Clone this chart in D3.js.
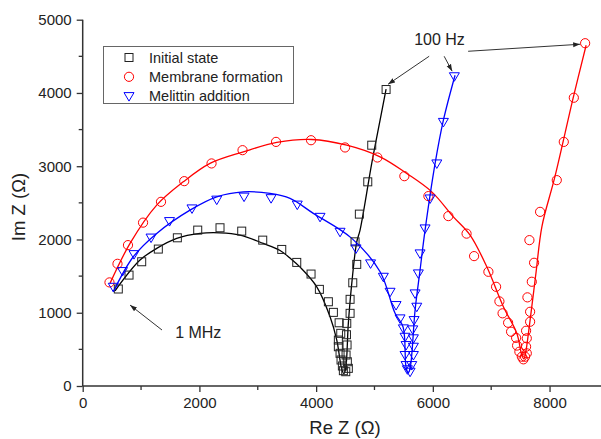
<!DOCTYPE html>
<html>
<head>
<meta charset="utf-8">
<script src="https://cdn.jsdelivr.net/npm/d3@7"></script>
<style>
  html, body { margin: 0; padding: 0; background: #fff; }
  svg { display: block; font-family: Arial, "Liberation Sans", sans-serif; }
</style>
</head>
<body>
<svg id="chart" width="601" height="439"></svg>
<script>
// ---------- data ----------
const seriesNames = ["Initial state", "Membrane formation", "Melittin addition"];
const seriesColors = ["#000000", "#ff0000", "#0000ff"];

const xTicks = [0, 2000, 4000, 6000, 8000];
const yTicks = [0, 1000, 2000, 3000, 4000, 5000];

// measured points [Re Z, Im Z]
const initialPts = [
  [610,1324],[794,1514],[1011,1696],[1296,1869],[1622,2023],[1971,2128],[2353,2160],
  [2725,2114],[3085,1991],[3411,1864],[3668,1687],[3913,1528],[4056,1319],[4210,1150],
  [4296,1005],[4394,863],[4422,719],[4381,627],[4381,536],[4410,446],[4427,355],
  [4450,273],[4467,209],
  [4508,195],[4552,241],[4535,331],[4513,423],[4530,560],[4520,700],[4525,855],
  [4582,992],[4582,1183],[4628,1409],[4696,1660],[4667,1968],[4741,2346],[4885,2787],
  [4953,3287],[5199,4047]
];
const membranePts = [
  [459,1414],[596,1668],[776,1923],[1034,2230],[1342,2514],[1740,2796],[2208,3038],
  [2739,3219],[3313,3332],[3913,3355],[4496,3256],[5050,3119],[5512,2864],[5924,2592],
  [6266,2319],[6578,2080],[6707,1773],[6952,1559],[7084,1354],[7141,1155],[7195,992],
  [7290,863],[7341,741],[7427,657],[7444,552],[7483,468],[7525,400],[7552,364],
  [7580,400],[7610,446],[7598,536],[7610,651],[7598,754],[7667,877],[7667,1013],
  [7621,1210],[7696,1423],[7735,1682],[7655,1991],[7838,2377],[8124,2810],[8244,3332],
  [8416,3935],[8610,4679]
];
const melittinPts = [
  [524,1354],[682,1569],[879,1800],[1171,2026],[1488,2251],[1873,2424],[2297,2544],
  [2765,2585],[3228,2564],[3677,2476],[4067,2309],[4410,2105],[4684,1878],[4933,1674],
  [5152,1491],[5267,1286],[5370,1105],[5438,923],[5495,787],[5524,672],[5541,559],
  [5524,423],[5541,286],[5564,228],
  [5610,195],[5639,286],[5667,423],[5667,536],[5667,651],[5656,773],[5679,900],
  [5725,1082],[5696,1264],[5752,1537],[5781,1810],[5867,2151],[5953,2560],[6068,3038],
  [6181,3605],[6369,4228]
];

// fitted curves [Re Z, Im Z]
const initialFit = [
  [554,1300],[982,1719],[1268,1878],[1611,2015],[2010,2083],[2353,2091],[2696,2060],
  [3095,1946],[3382,1850],[3553,1746],[3725,1623],[4011,1354],[4239,945],[4354,627],
  [4439,230],[4475,170],[4505,230],[4552,855],[4611,1401],[4696,1968],[4753,2128],
  [4953,3038],[5096,3628],[5199,4051]
];
const membraneFit = [
  [468,1401],[811,1946],[1268,2469],[1724,2787],[2182,3038],[2753,3196],[3325,3324],
  [3925,3365],[4525,3287],[5096,3128],[5553,2901],[5982,2650],[6352,2309],[6638,2060],
  [6925,1627],[7209,1082],[7439,719],[7525,420],[7560,370],[7585,430],[7667,900],
  [7770,1560],[7870,2180],[8090,2850],[8409,3946],[8627,4651]
];
const melittinFit = [
  [524,1286],[867,1764],[1268,2083],[1839,2401],[2297,2582],[2753,2650],[3210,2628],
  [3553,2560],[3952,2356],[4611,2015],[5096,1559],[5353,992],[5490,805],[5541,260],
  [5580,180],[5615,263],[5696,1037],[5781,1582],[5867,2128],[6039,3038],[6181,3628],
  [6381,4242]
];

// annotations (data coordinates)
const labels = [
  { text: "100 Hz", x: 6114, y: 4651, anchor: "middle" },
  { text: "1 MHz", x: 1584, y: 655, anchor: "start" }
];
const arrows = [
  { from: [5937, 4501], to: [5233, 4119] },
  { from: [6194, 4501], to: [6331, 4297] },
  { from: [6605, 4569], to: [8525, 4665] },
  { from: [1359, 764], to: [811, 1105] }
];

// ---------- chart ----------
const svg = d3.select("#chart");
const x = d3.scaleLinear().domain([0, 9000]).range([82.7, 607.9]);
const y = d3.scaleLinear().domain([0, 5000]).range([386, 19.7]);
const axisColor = "#333";

svg.append("defs").append("marker")
  .attr("id", "arrowhead").attr("viewBox", "0 0 10 10")
  .attr("refX", 10).attr("refY", 5)
  .attr("markerWidth", 7).attr("markerHeight", 7)
  .attr("markerUnits", "userSpaceOnUse")
  .attr("orient", "auto")
  .append("path").attr("d", "M0,1.5 L10,5 L0,8.5 Z").attr("fill", "#222");

// x axis
const gx = svg.append("g").attr("transform", `translate(0,${y(0)})`);
gx.append("line").attr("x1", x(0)).attr("x2", 601).attr("stroke", axisColor).attr("stroke-width", 1.5);
gx.call(d3.axisBottom(x).tickValues(xTicks).tickSize(6).tickPadding(5).tickFormat(d3.format("d")));
gx.select(".domain").remove();
gx.selectAll(".tick line").attr("stroke", axisColor).attr("stroke-width", 1.3);
gx.selectAll(".tick text").attr("font-size", 15).attr("fill", "#222").attr("font-family", "Arial, 'Liberation Sans', sans-serif");
gx.selectAll(".minor").data([1000, 3000, 5000, 7000]).enter().append("line")
  .attr("x1", d => x(d)).attr("x2", d => x(d)).attr("y1", 0).attr("y2", 4)
  .attr("stroke", axisColor).attr("stroke-width", 1.3);

// y axis
const gy = svg.append("g").attr("transform", `translate(${x(0)},0)`);
gy.append("line").attr("y1", y(0)).attr("y2", y(5000)).attr("stroke", axisColor).attr("stroke-width", 1.5);
gy.call(d3.axisLeft(y).tickValues(yTicks).tickSize(6).tickPadding(5).tickFormat(d3.format("d")));
gy.select(".domain").remove();
gy.selectAll(".tick line").attr("stroke", axisColor).attr("stroke-width", 1.3);
gy.selectAll(".tick text").attr("font-size", 15).attr("fill", "#222").attr("font-family", "Arial, 'Liberation Sans', sans-serif");
gy.selectAll(".minor").data([500, 1500, 2500, 3500, 4500]).enter().append("line")
  .attr("y1", d => y(d)).attr("y2", d => y(d)).attr("x1", 0).attr("x2", -4)
  .attr("stroke", axisColor).attr("stroke-width", 1.3);

// axis titles
svg.append("text").attr("x", 345).attr("y", 434).attr("text-anchor", "middle")
  .attr("font-size", 18.5).attr("fill", "#222").text("Re Z (Ω)");
svg.append("text").attr("transform", "translate(25,207) rotate(-90)").attr("text-anchor", "middle")
  .attr("font-size", 18.5).attr("fill", "#222").text("Im Z (Ω)");

// fit lines
const line = d3.line().x(d => x(d[0])).y(d => y(d[1])).curve(d3.curveCatmullRom.alpha(0.5));
const fits = [initialFit, membraneFit, melittinFit];
fits.forEach((f, i) => {
  svg.append("path").attr("d", line(f)).attr("fill", "none")
    .attr("stroke", seriesColors[i]).attr("stroke-width", 1.3);
});

// markers
function drawMarker(g, type, color) {
  if (type === 0) {
    g.append("rect").attr("x", -4).attr("y", -4).attr("width", 8).attr("height", 8)
      .attr("fill", "none").attr("stroke", "#222").attr("stroke-width", 1);
  } else if (type === 1) {
    g.append("circle").attr("r", 4.6).attr("fill", "none").attr("stroke", color).attr("stroke-width", 1);
  } else {
    g.append("path").attr("d", "M-5,-3.5 L5,-3.5 L0,5 Z").attr("fill", "none")
      .attr("stroke", color).attr("stroke-width", 1);
  }
}
const pts = [initialPts, membranePts, melittinPts];
pts.forEach((arr, i) => {
  const g = svg.append("g");
  arr.forEach(p => {
    const m = g.append("g").attr("transform", `translate(${x(p[0])},${y(p[1])})`);
    drawMarker(m, i, seriesColors[i]);
  });
});

// legend
const lg = svg.append("g");
lg.append("rect").attr("x", 103.5).attr("y", 46.5).attr("width", 190).attr("height", 57)
  .attr("fill", "#fff").attr("stroke", "#666").attr("stroke-width", 1);
seriesNames.forEach((n, i) => {
  const yy = 57.5 + i * 19.3;
  const m = lg.append("g").attr("transform", `translate(129,${yy})`);
  drawMarker(m, i, seriesColors[i]);
  lg.append("text").attr("x", 149).attr("y", yy + 5).attr("font-size", 14.5)
    .attr("fill", "#222").text(n);
});

// annotations
arrows.forEach(a => {
  svg.append("line")
    .attr("x1", x(a.from[0])).attr("y1", y(a.from[1]))
    .attr("x2", x(a.to[0])).attr("y2", y(a.to[1]))
    .attr("stroke", "#333").attr("stroke-width", 1)
    .attr("marker-end", "url(#arrowhead)");
});
labels.forEach(l => {
  svg.append("text").attr("x", x(l.x)).attr("y", y(l.y)).attr("text-anchor", l.anchor)
    .attr("font-size", 16).attr("fill", "#222").text(l.text);
});
</script>
</body>
</html>
